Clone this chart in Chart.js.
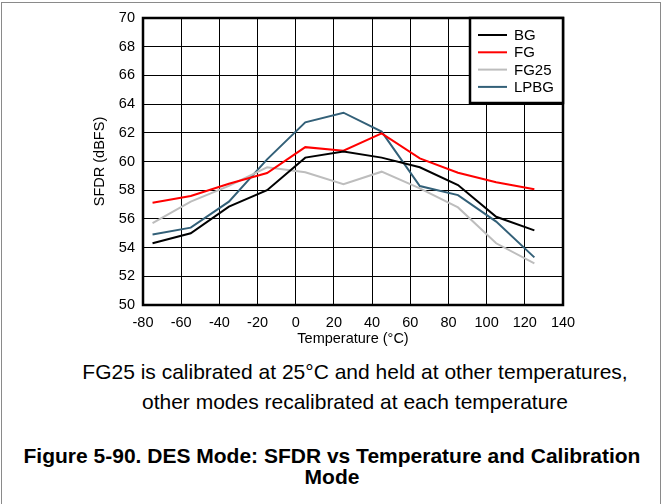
<!DOCTYPE html>
<html>
<head>
<meta charset="utf-8">
<script src="https://cdn.jsdelivr.net/npm/chart.js@4.4.1/dist/chart.umd.min.js"></script>
<style>
  html, body { margin: 0; padding: 0; background: #fff; }
  #wrap { position: relative; width: 664px; height: 504px; overflow: hidden; font-family: "Liberation Sans", Arial, sans-serif; }
  #frame { position: absolute; left: 1px; top: 2px; width: 660px; height: 520px; border: 1px solid #8a8a8a; box-sizing: border-box; }
  #c { position: absolute; left: 0; top: 0; }
  .cap { position: absolute; left: 0; width: 710px; text-align: center; font-size: 21px; color: #000; white-space: nowrap; }
  .fig { position: absolute; left: 0; width: 664px; text-align: center; font-size: 21px; font-weight: bold; color: #000; white-space: nowrap; }
</style>
</head>
<body>
<div id="wrap">
  <div id="frame"></div>
  <canvas id="c" width="664" height="348"></canvas>
  <div class="cap" style="top:360px;">FG25 is calibrated at 25°C and held at other temperatures,</div>
  <div class="cap" style="top:390px;">other modes recalibrated at each temperature</div>
  <div class="fig" style="top:444px;">Figure 5-90. DES Mode: SFDR vs Temperature and Calibration</div>
  <div class="fig" style="top:465px;">Mode</div>
</div>
<script>
const temperatures = [-75, -55, -35, -15, 5, 25, 45, 65, 85, 105, 125];
const bgValues    = [54.3, 55.0, 56.85, 58.0, 60.27, 60.69, 60.27, 59.6, 58.36, 56.15, 55.2];
const fgValues    = [57.13, 57.6, 58.45, 59.2, 61.0, 60.75, 61.96, 60.22, 59.22, 58.55, 58.06];
const fg25Values  = [55.7, 57.2, 58.3, 59.6, 59.25, 58.41, 59.29, 58.13, 56.8, 54.3, 52.9];
const lpbgValues  = [54.92, 55.39, 57.2, 60.15, 62.73, 63.4, 62.08, 58.29, 57.66, 55.81, 53.32];
const seriesNames = ["BG", "FG", "FG25", "LPBG"];
const seriesColors = ["#000000", "#ff0000", "#bdbdbd", "#336078"];
const xTicks = [-80, -60, -40, -20, 0, 20, 40, 60, 80, 100, 120, 140];
const yTicks = [50, 52, 54, 56, 58, 60, 62, 64, 66, 68, 70];

const allValues = [bgValues, fgValues, fg25Values, lpbgValues];
const datasets = seriesNames.map((name, i) => ({
  label: name,
  data: temperatures.map((t, j) => ({ x: t, y: allValues[i][j] })),
  borderColor: seriesColors[i],
  backgroundColor: seriesColors[i],
  borderWidth: 2,
  pointRadius: 0,
  tension: 0,
  fill: false
}));

const FONT = "'Liberation Sans', Arial, sans-serif";

const framePlugin = {
  id: 'framePlugin',
  afterDatasetsDraw(chart) {
    const { ctx, chartArea: a } = chart;
    ctx.save();
    ctx.strokeStyle = '#000';
    ctx.lineWidth = 2.5;
    ctx.strokeRect(a.left, a.top, a.right - a.left, a.bottom - a.top);
    // legend
    const lx = 470, ly = a.top, lw = a.right - 470, lh = 85;
    ctx.fillStyle = '#fff';
    ctx.fillRect(lx, ly, lw, lh);
    ctx.lineWidth = 2.5;
    ctx.strokeRect(lx, ly, lw, lh);
    ctx.font = '15px ' + FONT;
    ctx.textBaseline = 'middle';
    ctx.textAlign = 'left';
    chart.data.datasets.forEach((ds, i) => {
      const y = ly + 17 + i * 17.3;
      ctx.strokeStyle = ds.borderColor;
      ctx.lineWidth = 2;
      ctx.beginPath();
      ctx.moveTo(478, y);
      ctx.lineTo(507, y);
      ctx.stroke();
      ctx.fillStyle = '#000';
      ctx.fillText(ds.label, 514, y + 1);
    });
    ctx.restore();
  }
};

new Chart(document.getElementById('c'), {
  type: 'line',
  data: { datasets },
  plugins: [framePlugin],
  options: {
    responsive: false,
    animation: false,
    layout: { padding: { left: 91, right: 101, top: 18, bottom: 0 } },
    plugins: { legend: { display: false }, tooltip: { enabled: false } },
    scales: {
      x: {
        type: 'linear',
        min: -80, max: 140,
        afterBuildTicks(scale) { scale.ticks = xTicks.map(v => ({ value: v })); },
        afterFit(scale) { scale.height = 43; },
        grid: { color: '#000', lineWidth: 1, tickLength: 0, drawTicks: false },
        border: { display: false },
        ticks: { color: '#000', font: { family: FONT, size: 14.5 }, padding: 9, maxRotation: 0, autoSkip: false },
        title: { display: true, text: 'Temperature (°C)', color: '#000', font: { family: FONT, size: 14.5 }, padding: { top: 0, bottom: 0 } }
      },
      y: {
        type: 'linear',
        min: 50, max: 70,
        afterBuildTicks(scale) { scale.ticks = yTicks.map(v => ({ value: v })); },
        afterFit(scale) { scale.width = 143 - 91; },
        grid: { color: '#000', lineWidth: 1, tickLength: 0, drawTicks: false },
        border: { display: false },
        ticks: { color: '#000', font: { family: FONT, size: 14.5 }, padding: 8, autoSkip: false },
        title: { display: true, text: 'SFDR (dBFS)', color: '#000', font: { family: FONT, size: 14.5 }, padding: { top: 0, bottom: 0 } }
      }
    }
  }
});
</script>
</body>
</html>
